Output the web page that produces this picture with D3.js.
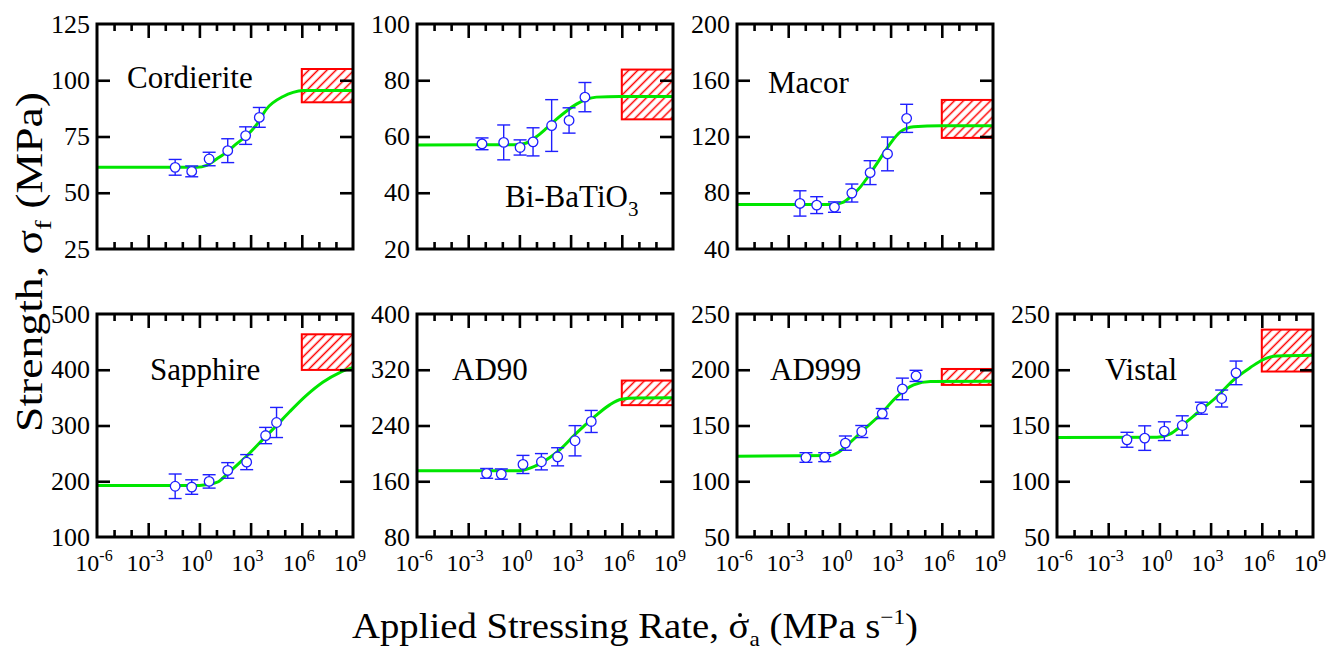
<!DOCTYPE html>
<html>
<head>
<meta charset="utf-8">
<script src="https://cdn.jsdelivr.net/npm/d3@7"></script>
<style>
  body { margin: 0; background: #fff; }
  svg { display: block; }
  text { font-family: "Liberation Serif", "Times New Roman", Times, serif; fill: #000; }
</style>
</head>
<body>
<svg id="chart" width="1331" height="652"></svg>
<script>
// ---- data: rates are given as log10 of the stressing rate (MPa/s) ----
const xTickExponents = [-6, -3, 0, 3, 6, 9];

const materialNames = ["Cordierite", "Bi-BaTiO3", "Macor", "Sapphire", "AD90", "AD999", "Vistal"];

// Cordierite
const cordieriteLogRate  = [-1.42, -0.45, 0.57, 1.66, 2.71, 3.51];
const cordieriteStrength = [61.3, 59.5, 65.0, 68.7, 75.4, 83.5];
const cordieriteError    = [3.5, 2.4, 3.0, 5.3, 3.9, 4.4];
const cordieriteFitLogRate  = [-6, -0.16, 0.43, 1.01, 1.66, 2.18, 2.77, 3.35, 3.94, 4.91, 5.49, 6.08, 9];
const cordieriteFitStrength = [61.3, 61.3, 62.2, 65.0, 68.4, 71.8, 75.4, 80.3, 87.3, 92.8, 94.6, 95.4, 95.5];
const cordieriteBand  = [90.2, 105.0];
const cordieriteTicks = [25, 50, 75, 100, 125];

// Bi-BaTiO3
const bbtLogRate  = [-2.19, -0.92, 0.04, 0.80, 1.89, 2.91, 3.84];
const bbtStrength = [57.4, 57.9, 56.1, 58.1, 63.9, 65.7, 74.0];
const bbtError    = [2.1, 6.2, 2.7, 5.0, 9.2, 4.5, 5.2];
const bbtFitLogRate  = [-6, -0.18, 0.41, 0.99, 1.58, 2.16, 2.75, 3.34, 3.92, 4.51, 5.88, 9];
const bbtFitStrength = [57.0, 57.1, 57.7, 59.9, 62.9, 66.1, 69.0, 71.5, 73.2, 74.0, 74.2, 74.2];
const bbtBand  = [66.1, 83.8];
const bbtTicks = [20, 40, 60, 80, 100];

// Macor
const macorLogRate  = [-2.31, -1.33, -0.29, 0.73, 1.80, 2.82, 3.94];
const macorStrength = [72.4, 71.2, 69.8, 79.8, 94.3, 107.6, 132.9];
const macorError    = [9.0, 6.0, 3.7, 6.4, 8.5, 12.0, 10.0];
const macorFitLogRate  = [-6, -0.35, 0.24, 0.73, 1.22, 1.80, 2.39, 2.98, 3.57, 4.35, 5.92, 9];
const macorFitStrength = [71.7, 71.7, 73.3, 78.0, 84.0, 93.6, 104.3, 115.0, 123.3, 126.9, 127.6, 127.6];
const macorBand  = [119.0, 146.0];
const macorTicks = [40, 80, 120, 160, 200];

// Sapphire
const sapphireLogRate  = [-1.42, -0.45, 0.57, 1.66, 2.77, 3.88, 4.52];
const sapphireStrength = [191.0, 189.6, 199.7, 219.4, 234.3, 282.0, 305.4];
const sapphireError    = [22.0, 13.0, 12.0, 14.0, 13.5, 14.6, 27.0];
const sapphireFitLogRate  = [-6, 0.0, 0.57, 1.11, 1.66, 2.77, 3.88, 4.52, 5.30, 6.27, 7.25, 8.22, 9];
const sapphireFitStrength = [192.5, 192.6, 194.5, 199.0, 214.0, 245.0, 280.0, 300.0, 325.0, 354.0, 378.0, 395.0, 404.0];
const sapphireBand  = [399.7, 463.6];
const sapphireTicks = [100, 200, 300, 400, 500];

// AD90
const ad90LogRate  = [-1.92, -1.06, 0.21, 1.29, 2.24, 3.26, 4.21];
const ad90Strength = [171.3, 170.3, 184.1, 188.0, 195.1, 218.1, 245.8];
const ad90Error    = [7.0, 7.4, 13.0, 11.7, 13.0, 21.7, 15.8];
const ad90FitLogRate  = [-6, -0.2, 0.21, 0.7, 1.19, 1.78, 2.36, 3.34, 4.31, 5.29, 5.97, 6.85, 9];
const ad90FitStrength = [175.0, 175.0, 175.8, 179.5, 185.0, 194.0, 205.0, 229.0, 250.5, 269.6, 277.7, 279.5, 279.7];
const ad90Band  = [269.2, 304.5];
const ad90Ticks = [80, 160, 240, 320, 400];

// AD999
const ad999LogRate  = [-1.96, -0.86, 0.35, 1.31, 2.51, 3.69, 4.49];
const ad999Strength = [121.3, 121.6, 134.2, 144.6, 160.7, 182.8, 194.5];
const ad999Error    = [4.3, 4.0, 6.4, 5.4, 4.5, 9.7, 5.0];
const ad999FitLogRate  = [-6, -0.55, -0.05, 0.43, 1.41, 2.39, 3.37, 4.35, 5.33, 9];
const ad999FitStrength = [122.5, 123.0, 126.0, 132.0, 146.0, 159.6, 176.0, 186.4, 189.4, 189.7];
const ad999Band  = [186.4, 200.7];
const ad999Ticks = [50, 100, 150, 200, 250];

// Vistal
const vistalLogRate  = [-1.90, -0.86, 0.29, 1.34, 2.46, 3.65, 4.49];
const vistalStrength = [137.2, 138.7, 144.9, 150.0, 165.5, 174.2, 197.2];
const vistalError    = [6.7, 11.0, 8.4, 8.7, 5.4, 7.6, 10.6];
const vistalFitLogRate  = [-6, -0.14, 0.64, 1.23, 2.2, 3.38, 4.35, 5.33, 6.11, 6.89, 9];
const vistalFitStrength = [139.3, 139.5, 142.5, 149.0, 161.0, 176.0, 191.0, 202.0, 209.4, 212.4, 213.0];
const vistalBand  = [198.4, 236.0];
const vistalTicks = [50, 100, 150, 200, 250];

// Dynamic-strength band spans these rates
const bandLogRate = [6, 9];

// ---- assemble per-panel records for drawing ----
const panelData = [
  [cordieriteLogRate, cordieriteStrength, cordieriteError, cordieriteFitLogRate, cordieriteFitStrength, cordieriteBand, cordieriteTicks],
  [bbtLogRate, bbtStrength, bbtError, bbtFitLogRate, bbtFitStrength, bbtBand, bbtTicks],
  [macorLogRate, macorStrength, macorError, macorFitLogRate, macorFitStrength, macorBand, macorTicks],
  [sapphireLogRate, sapphireStrength, sapphireError, sapphireFitLogRate, sapphireFitStrength, sapphireBand, sapphireTicks],
  [ad90LogRate, ad90Strength, ad90Error, ad90FitLogRate, ad90FitStrength, ad90Band, ad90Ticks],
  [ad999LogRate, ad999Strength, ad999Error, ad999FitLogRate, ad999FitStrength, ad999Band, ad999Ticks],
  [vistalLogRate, vistalStrength, vistalError, vistalFitLogRate, vistalFitStrength, vistalBand, vistalTicks]
].map((d, i) => ({
  name: materialNames[i],
  points: d[0].map((lr, j) => ({ rate: 10 ** lr, s: d[1][j], e: d[2][j] })),
  fit: d[3].map((lr, j) => ({ rate: 10 ** lr, s: d[4][j] })),
  band: d[5],
  ticks: d[6]
}));

// ---- layout ----
const PANEL_W = 256;
const colLeft = [97, 417, 737, 1057];
const rowTop = [24, 314];
const rowH = [225, 223];
// material label placement inside each panel (offset from panel top-left, baseline)
const labelOffset = [[30, 64], [88, 183], [31, 69], [53, 66], [35, 66], [33, 66], [48, 66]];

const BLUE = "#1f1fff", GREEN = "#00e600", RED = "#ff0000";

const svg = d3.select("#chart");
const defs = svg.append("defs");

const hatch = defs.append("pattern")
  .attr("id", "hatch")
  .attr("patternUnits", "userSpaceOnUse")
  .attr("width", 6.4).attr("height", 6.4)
  .attr("patternTransform", "rotate(45)");
hatch.append("line")
  .attr("x1", 3.2).attr("y1", -1).attr("x2", 3.2).attr("y2", 8)
  .attr("stroke", RED).attr("stroke-width", 1.5);

panelData.forEach((p, i) => {
  const row = i < 3 ? 0 : 1;
  const col = i < 3 ? i : i - 3;
  const left = colLeft[col], top = rowTop[row];
  const w = PANEL_W, h = rowH[row];

  const x = d3.scaleLog().domain([1e-6, 1e9]).range([0, w]);
  const y = d3.scaleLinear().domain([p.ticks[0], p.ticks[p.ticks.length - 1]]).range([h, 0]);

  const g = svg.append("g").attr("transform", `translate(${left},${top})`);

  const clipId = "clip" + i;
  defs.append("clipPath").attr("id", clipId)
    .append("rect").attr("x", 0).attr("y", 0).attr("width", w).attr("height", h);

  const plot = g.append("g").attr("clip-path", `url(#${clipId})`);

  // hatched band of dynamic strength
  const bx0 = x(10 ** bandLogRate[0]), bx1 = x(10 ** bandLogRate[1]);
  plot.append("rect")
    .attr("x", bx0).attr("y", y(p.band[1]))
    .attr("width", bx1 - bx0).attr("height", y(p.band[0]) - y(p.band[1]))
    .attr("fill", "url(#hatch)")
    .attr("stroke", RED).attr("stroke-width", 2);

  // fitted curve
  const line = d3.line().x(d => x(d.rate)).y(d => y(d.s)).curve(d3.curveMonotoneX);
  plot.append("path").datum(p.fit)
    .attr("d", line)
    .attr("fill", "none").attr("stroke", GREEN).attr("stroke-width", 3);

  // error bars
  const eb = g.append("g").attr("stroke", BLUE).attr("stroke-width", 1.4).attr("fill", "none");
  const cap = 6.5;
  p.points.forEach(d => {
    const cx = x(d.rate);
    eb.append("line").attr("x1", cx).attr("x2", cx).attr("y1", y(d.s + d.e)).attr("y2", y(d.s - d.e));
    eb.append("line").attr("x1", cx - cap).attr("x2", cx + cap).attr("y1", y(d.s + d.e)).attr("y2", y(d.s + d.e));
    eb.append("line").attr("x1", cx - cap).attr("x2", cx + cap).attr("y1", y(d.s - d.e)).attr("y2", y(d.s - d.e));
  });
  g.append("g").selectAll("circle").data(p.points).join("circle")
    .attr("cx", d => x(d.rate)).attr("cy", d => y(d.s)).attr("r", 4.8)
    .attr("fill", "#fff").attr("stroke", BLUE).attr("stroke-width", 1.3);

  // ticks (inward, on all four sides)
  const minorVals = d3.range(-5, 9).filter(e => e % 3 !== 0).map(e => 10 ** e);
  const majorVals = d3.range(-5, 9).filter(e => e % 3 === 0).map(e => 10 ** e);
  const innerY = p.ticks.slice(1, -1);
  const styleAxis = sel => {
    sel.select(".domain").remove();
    sel.selectAll("line").attr("stroke", "#000").attr("stroke-width", 2.6);
  };
  g.append("g").attr("transform", `translate(0,${h})`)
    .call(d3.axisBottom(x).tickValues(minorVals).tickSize(-7).tickFormat("")).call(styleAxis);
  g.append("g").attr("transform", `translate(0,${h})`)
    .call(d3.axisBottom(x).tickValues(majorVals).tickSize(-14).tickFormat("")).call(styleAxis);
  g.append("g")
    .call(d3.axisTop(x).tickValues(minorVals).tickSize(-7).tickFormat("")).call(styleAxis);
  g.append("g")
    .call(d3.axisTop(x).tickValues(majorVals).tickSize(-14).tickFormat("")).call(styleAxis);
  g.append("g")
    .call(d3.axisLeft(y).tickValues(innerY).tickSize(-13).tickFormat("")).call(styleAxis);
  g.append("g").attr("transform", `translate(${w},0)`)
    .call(d3.axisRight(y).tickValues(innerY).tickSize(-13).tickFormat("")).call(styleAxis);

  // frame
  g.append("rect").attr("x", 0).attr("y", 0).attr("width", w).attr("height", h)
    .attr("fill", "none").attr("stroke", "#000").attr("stroke-width", 3);

  // y tick labels
  p.ticks.forEach(v => {
    g.append("text")
      .attr("x", -7).attr("y", y(v) + 8.5)
      .attr("text-anchor", "end").attr("font-size", 26)
      .text(v);
  });

  // x tick labels on the lower row
  if (row === 1) {
    xTickExponents.forEach(e => {
      const t = g.append("text")
        .attr("x", x(10 ** e) - 3).attr("y", h + 34)
        .attr("text-anchor", "middle").attr("font-size", 24);
      t.append("tspan").text("10");
      t.append("tspan").attr("font-size", 16).attr("dy", -10)
        .text(e < 0 ? "-" + Math.abs(e) : String(e));
    });
  }

  // material label
  const [lx, ly] = labelOffset[i];
  const lab = g.append("text").attr("x", lx).attr("y", ly).attr("font-size", 31);
  if (p.name === "Bi-BaTiO3") {
    lab.append("tspan").text("Bi-BaTiO");
    lab.append("tspan").attr("font-size", 21).attr("dy", 9).text("3");
  } else {
    lab.text(p.name);
  }
});

// axis titles
const yTitle = svg.append("text")
  .attr("transform", "translate(42,262) rotate(-90)")
  .attr("text-anchor", "middle")
  .attr("font-size", 37)
  .attr("textLength", 340).attr("lengthAdjust", "spacingAndGlyphs");
yTitle.append("tspan").text("Strength, σ");
yTitle.append("tspan").attr("font-size", 24).attr("dy", 9).text("f");
yTitle.append("tspan").attr("dy", -9).text(" (MPa)");

const xTitleG = svg.append("g").attr("transform", "translate(635,638)");
const xTitle = xTitleG.append("text")
  .attr("text-anchor", "middle")
  .attr("font-size", 35)
  .attr("textLength", 566).attr("lengthAdjust", "spacingAndGlyphs");
const xLead = "Applied Stressing Rate, σ";
xTitle.append("tspan").text(xLead);
xTitle.append("tspan").attr("font-size", 21).attr("dy", 8).text("a");
xTitle.append("tspan").attr("dy", -8).text(" (MPa s");
xTitle.append("tspan").attr("font-size", 21).attr("dy", -14).text("\u22121");
xTitle.append("tspan").attr("dy", 14).text(")");

// time-derivative dot over the sigma
const sigIdx = xLead.length - 1;
const node = xTitle.node();
const s0 = node.getStartPositionOfChar(sigIdx);
const s1 = node.getEndPositionOfChar(sigIdx);
xTitleG.append("circle")
  .attr("cx", (s0.x + s1.x) / 2 + 1).attr("cy", -23)
  .attr("r", 2).attr("fill", "#000");
</script>
</body>
</html>
